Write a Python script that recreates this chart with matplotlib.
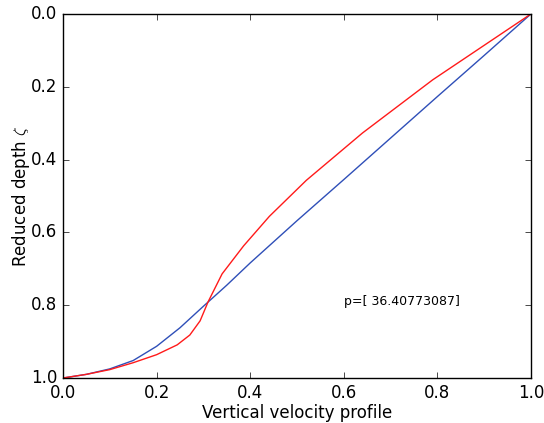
import matplotlib
matplotlib.use("Agg")
import matplotlib.pyplot as plt

# measured profile (red)
u_data = [0.0, 0.05, 0.10, 0.15, 0.20, 0.244, 0.271, 0.293, 0.310, 0.340, 0.386, 0.441, 0.520, 0.640, 0.790, 1.0]
z_data = [1.0, 0.990, 0.977, 0.958, 0.936, 0.909, 0.882, 0.843, 0.791, 0.714, 0.637, 0.556, 0.457, 0.327, 0.181, 0.0]

# fitted profile (blue)
u_fit = [0.0, 0.05, 0.10, 0.15, 0.20, 0.25, 0.30, 0.35, 0.40, 0.50, 0.60, 0.70, 0.80, 0.90, 1.0]
z_fit = [1.0, 0.990, 0.975, 0.952, 0.913, 0.862, 0.803, 0.745, 0.684, 0.568, 0.455, 0.341, 0.227, 0.114, 0.0]

p_label = "p=[ 36.40773087]"
ticks = [0.0, 0.2, 0.4, 0.6, 0.8, 1.0]

plt.style.use("classic")
fig = plt.figure(figsize=(5.44, 4.23), dpi=100, facecolor="white")
ax = fig.add_axes([0.1158, 0.1064, 0.8602, 0.8606])

ax.plot(u_fit, z_fit, color="#2f4fb8", lw=1.0)
ax.plot(u_data, z_data, color="#ff1a1a", lw=1.0)

ax.text(0.6, 0.8, p_label, fontsize=9)

ax.set_xlim(0, 1)
ax.set_ylim(1, 0)
ax.set_xticks(ticks)
ax.set_yticks(ticks)
ax.set_xlabel("Vertical velocity profile", fontsize=12, labelpad=1.5)
ax.set_ylabel(r"Reduced depth $\zeta$", fontsize=12, labelpad=-1)

fig.savefig("out.png", dpi=100, facecolor="white")
